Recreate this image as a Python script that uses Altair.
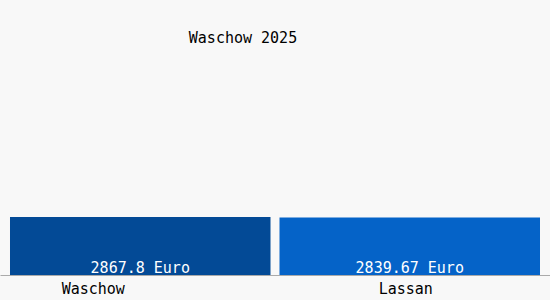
import altair as alt
import pandas as pd

categories = ["Waschow", "Lassan"]
values = [2867.8, 2839.67]
labels = ["2867.8 Euro", "2839.67 Euro"]
colors = ["#034a96", "#0563c8"]
title_text = "Waschow 2025"

df = pd.DataFrame({"cat": categories, "val": values, "label": labels, "color": colors})

FONT = "DejaVu Sans Mono"

x = alt.X("cat:N", sort=categories,
          scale=alt.Scale(paddingInner=0.0334, paddingOuter=0.0371),
          axis=alt.Axis(title=None, ticks=False, domain=True, domainColor="#aaaaaa",
                        labelAngle=0, labelFont=FONT, labelFontSize=15, labelColor="#000000",
                        labelBaseline="middle", labelPadding=13,
                        labelOffset={"condition": {"test": "datum.value === 'Waschow'", "value": -47}, "value": -4}))
y = alt.Y("val:Q", scale=alt.Scale(domain=[0, 13600], nice=False, zero=True), axis=None)

bars = alt.Chart(df).mark_bar().encode(
    x=x, y=y, color=alt.Color("color:N", scale=None)
)

texts = alt.Chart(df).mark_text(font=FONT, fontSize=15, color="white", baseline="alphabetic", dy=-2).encode(
    x=alt.X("cat:N", sort=categories), y=alt.datum(0), text="label:N"
)

title = alt.Chart(pd.DataFrame({"t": [title_text]})).mark_text(
    font=FONT, fontSize=15, color="#000000", baseline="middle", align="center"
).encode(x=alt.value(243), y=alt.value(38), text="t:N")

chart = alt.layer(bars, texts, title).properties(
    width=550, height=275,
    padding={"left": 0, "top": 0, "right": 0, "bottom": 25},
    autosize=alt.AutoSizeParams(type="none"),
    background="#f8f8f8"
).configure_view(stroke=None)

chart.save("out.html", embed_options={"renderer": "svg", "actions": False})
